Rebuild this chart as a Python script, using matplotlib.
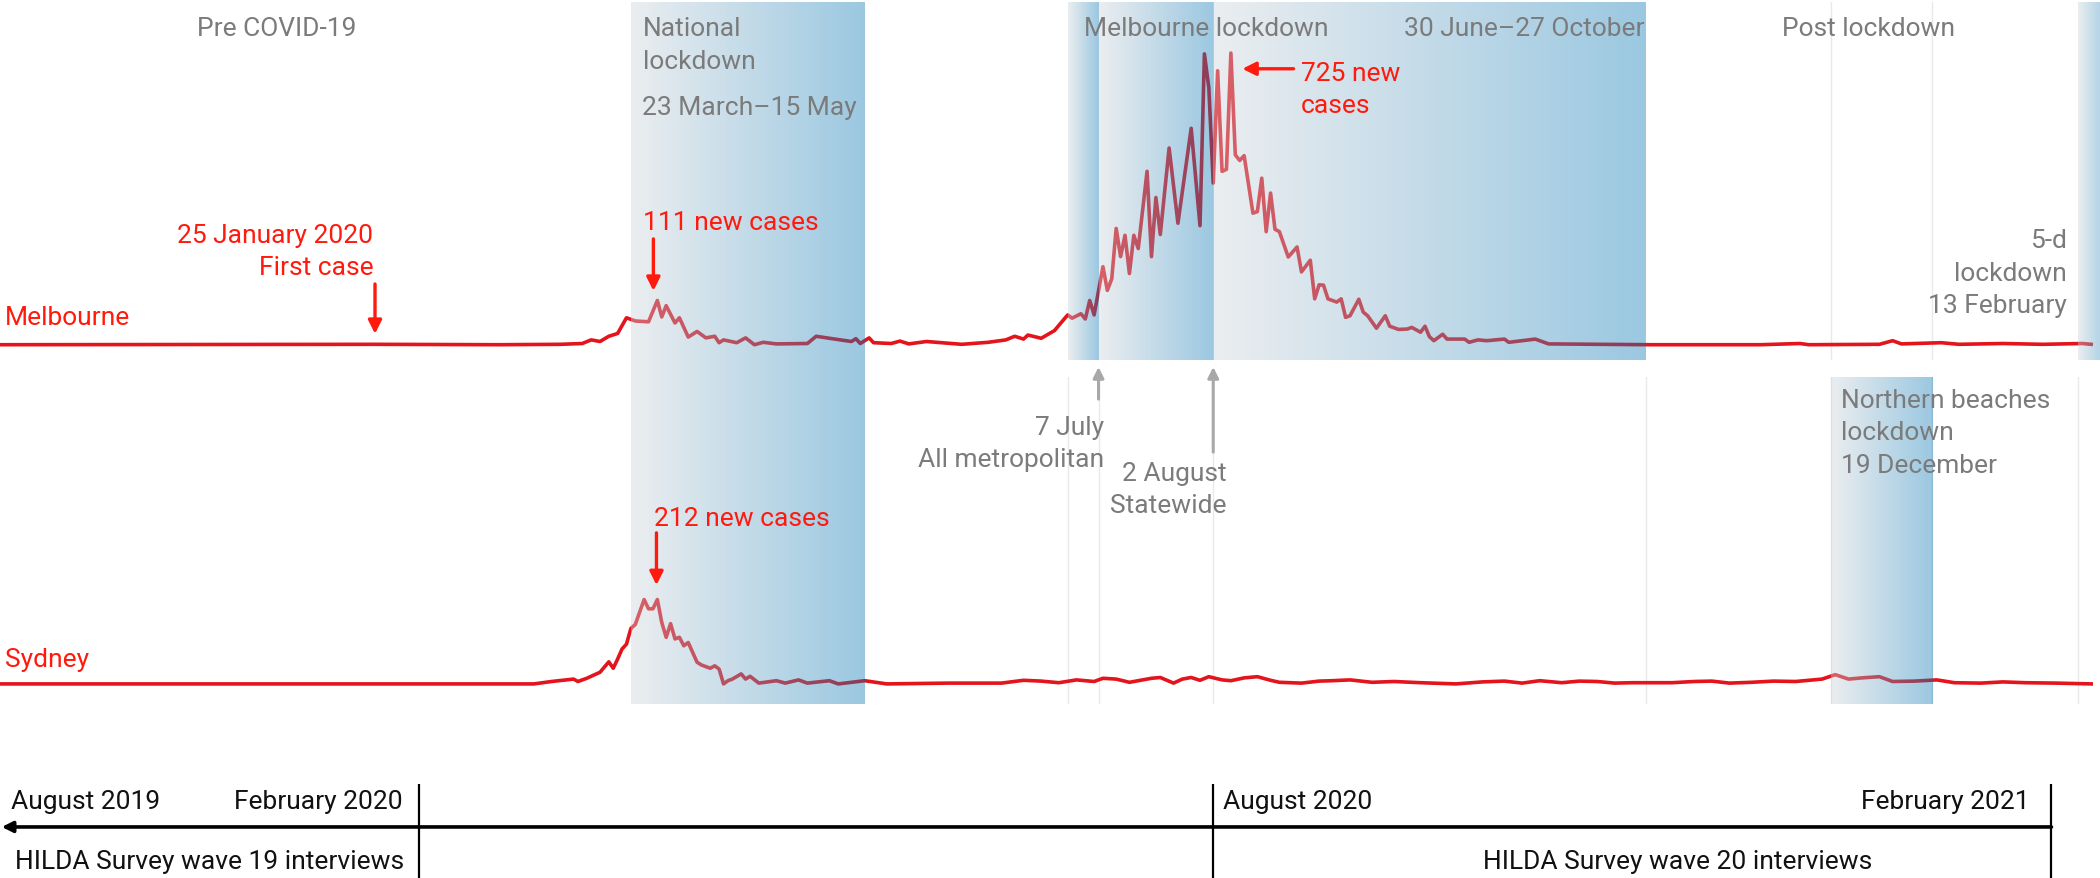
import numpy as np
import matplotlib
matplotlib.use("Agg")
import matplotlib.pyplot as plt
from matplotlib.colors import LinearSegmentedColormap

plt.rcParams['font.family'] = ['Roboto', 'DejaVu Sans']

START = np.datetime64("2019-11-01")


def d(s):
    # days since start of the chart
    return float((np.datetime64(s) - START) / np.timedelta64(1, "D"))


# daily new cases, Melbourne (days since 1 Nov 2019)
mel_day = [0, 85, 113, 127, 132, 134, 136, 138, 140, 142, 144, 147, 149, 150, 151,
           153, 154, 156, 158, 160, 162, 163, 164, 167, 169, 171, 173, 176, 183, 185,
           188, 193, 194, 195, 197, 198, 202, 204, 206, 210, 218, 224, 228, 230, 232,
           233, 236, 239, 240, 242, 243, 245, 246, 247, 248, 250, 251, 252, 253, 254,
           255, 256, 257, 258, 260, 261, 262, 263, 265, 267, 270, 272, 273, 274, 275,
           276, 277, 278, 279, 280, 281, 282, 284, 285, 286, 287, 288, 289, 290, 292,
           294, 295, 297, 298, 299, 300, 301, 303, 304, 305, 306, 308, 309, 310, 312,
           314, 315, 317, 319, 320, 322, 323, 324, 325, 327, 328, 332, 333, 335, 337,
           341, 342, 345, 348, 351, 374, 399, 408, 410, 426, 429, 431, 440, 444, 454,
           463, 472, 474]
mel_cases = [0, 1, 0, 1, 3, 12, 8, 21, 28, 67, 59, 57, 110, 69, 97,
             54, 67, 19, 33, 17, 21, 5, 12, 5, 17, 0, 6, 2, 3, 21,
             16, 8, 15, 3, 17, 5, 3, 9, 2, 8, 1, 6, 12, 21, 14,
             24, 16, 35, 48, 74, 66, 77, 64, 110, 74, 194, 135, 164, 289, 219,
             272, 177, 272, 239, 431, 219, 366, 274, 489, 302, 538, 296, 723, 639, 402,
             681, 431, 436, 725, 472, 458, 470, 327, 331, 414, 281, 377, 287, 281, 218,
             243, 181, 210, 114, 149, 148, 114, 106, 114, 68, 72, 113, 81, 72, 41,
             72, 46, 38, 39, 43, 31, 46, 20, 10, 26, 14, 14, 6, 12, 10,
             14, 6, 10, 14, 2, 0, 0, 3, 0, 1, 10, 2, 5, 1, 3,
             1, 3, 1]

# daily new cases, Sydney
syd_day = [0, 121, 125, 130, 131, 133, 136, 138, 139, 140, 141, 142, 143, 144, 146,
           147, 148, 149, 150, 151, 152, 153, 154, 155, 156, 158, 159, 161, 162, 163,
           164, 165, 166, 168, 169, 170, 172, 176, 178, 181, 183, 188, 190, 196, 201,
           215, 227, 232, 236, 240, 244, 248, 250, 253, 256, 259, 261, 263, 266, 268,
           270, 272, 274, 277, 279, 282, 285, 288, 290, 295, 299, 302, 306, 311, 316,
           322, 330, 336, 341, 345, 349, 354, 358, 362, 366, 370, 379, 384, 388, 392,
           397, 402, 407, 413, 416, 419, 422, 426, 429, 434, 439, 443, 449, 454, 459,
           466, 474]
syd_cases = [0, 0, 6, 12, 6, 14, 29, 55, 39, 62, 87, 99, 138, 148, 210,
             187, 187, 210, 153, 116, 150, 112, 116, 95, 103, 54, 47, 39, 45, 37,
             0, 8, 12, 25, 12, 19, 2, 8, 2, 10, 2, 8, 0, 8, 0,
             2, 2, 9, 7, 3, 10, 6, 14, 12, 4, 10, 14, 16, 2, 12,
             16, 9, 18, 10, 8, 15, 18, 9, 4, 2, 7, 8, 10, 4, 6,
             3, 0, 5, 7, 2, 8, 3, 7, 6, 2, 3, 3, 6, 7, 2,
             4, 7, 6, 12, 23, 12, 15, 18, 6, 7, 10, 3, 2, 5, 3,
             2, 0]

# lockdown periods
national = ("2020-03-23", "2020-05-15")
melb_parts = [("2020-06-30", "2020-07-07"), ("2020-07-07", "2020-08-02"),
              ("2020-08-02", "2020-11-08")]
five_day = ("2021-02-14", "2021-02-21")
northern = ("2020-12-20", "2021-01-12")

# survey interview periods
wave_marks = ["2020-02-04", "2020-08-02", "2021-02-08"]

RED = "#e3141c"
RED_TXT = "#ff1a0d"
GREY_TXT = "#7b7b7b"
GREY_ARROW = "#a8a8a8"
FS = 19

band_cmap = LinearSegmentedColormap.from_list("band", ["#cdd4d9", "#0575b4"])
grad = np.linspace(0, 1, 256).reshape(1, -1)

XMAX = 476
fig = plt.figure(figsize=(21, 8.79), dpi=100)
ax_m = fig.add_axes([0, 1 - 361 / 879, 1, 358 / 879])
ax_s = fig.add_axes([0, 1 - 705 / 879, 1, 327 / 879])
ax_t = fig.add_axes([0, 0, 1, 94 / 879])
m_lim = (-38, 852)
s_lim = (-50, 764)


def band(ax, a, b, y0, y1, clip=True):
    im = ax.imshow(grad, extent=[d(a), d(b), y0, y1], aspect="auto", cmap=band_cmap,
                   alpha=0.4, zorder=3, interpolation="bilinear")
    im.set_clip_on(clip)


# Melbourne panel
for day in [northern[0], northern[1]]:
    ax_m.axvline(d(day), color="#e9e9e9", lw=1, zorder=0)
ax_m.plot(mel_day, mel_cases, color=RED, lw=2.6, zorder=2, solid_joinstyle="round")
band(ax_m, national[0], national[1], -80, m_lim[1], clip=False)
for a, b in melb_parts:
    band(ax_m, a, b, m_lim[0], m_lim[1])
band(ax_m, five_day[0], five_day[1], m_lim[0], m_lim[1])
ax_m.set_xlim(0, XMAX)
ax_m.set_ylim(*m_lim)
ax_m.axis("off")

# Sydney panel
for day in ["2020-06-30", "2020-07-07", "2020-08-02", "2020-11-08",
            northern[0], northern[1], five_day[0]]:
    ax_s.axvline(d(day), color="#e9e9e9", lw=1, zorder=0)
ax_s.plot(syd_day, syd_cases, color=RED, lw=2.6, zorder=2, solid_joinstyle="round")
band(ax_s, national[0], national[1], s_lim[0], s_lim[1])
band(ax_s, northern[0], northern[1], s_lim[0], s_lim[1] + 5)
ax_s.set_xlim(0, XMAX)
ax_s.set_ylim(*s_lim)
ax_s.axis("off")

# gray labels
gkw = dict(color=GREY_TXT, fontsize=FS, va="center", zorder=6)
ax_m.text(62.8, 788, "Pre COVID-19", ha="center", **gkw)
ax_m.text(145.8, 747, "National\nlockdown", ha="left", linespacing=1.45, **gkw)
ax_m.text(145.6, 591, "23 March\u201315 May", ha="left", **gkw)
ax_m.text(245.8, 788, "Melbourne lockdown", ha="left", **gkw)
ax_m.text(372.8, 788, "30 June\u201327 October", ha="right", **gkw)
ax_m.text(423.6, 788, "Post lockdown", ha="center", **gkw)
ax_m.text(468.5, 179, "5-d\nlockdown\n13 February", ha="right", linespacing=1.45, **gkw)
ax_s.text(250.3, 600, "7 July\nAll metropolitan", ha="right", linespacing=1.45, **gkw)
ax_s.text(278.0, 485, "2 August\nStatewide", ha="right", linespacing=1.45, **gkw)
ax_s.text(417.2, 626, "Northern beaches\nlockdown\n19 December", ha="left",
          linespacing=1.45, **gkw)

gprops = dict(arrowstyle="-|>", color=GREY_ARROW, lw=2.2, mutation_scale=16,
              shrinkA=0, shrinkB=0)
ax_s.annotate("", xy=(d("2020-07-07"), 789), xytext=(d("2020-07-07"), 709),
              arrowprops=gprops, annotation_clip=False)
ax_s.annotate("", xy=(d("2020-08-02"), 789), xytext=(d("2020-08-02"), 577),
              arrowprops=gprops, annotation_clip=False)

# red labels
rkw = dict(color=RED_TXT, fontsize=FS, va="center", zorder=6)
rprops = dict(arrowstyle="-|>", color=RED_TXT, lw=2.4, mutation_scale=20,
              shrinkA=0, shrinkB=0)
ax_m.text(1.1, 69, "Melbourne", ha="left", **rkw)
ax_s.text(1.1, 62, "Sydney", ha="left", **rkw)
ax_m.text(84.6, 233, "25 January 2020\nFirst case", ha="right", linespacing=1.45, **rkw)
ax_m.annotate("", xy=(d("2020-01-25"), 27), xytext=(d("2020-01-25"), 151),
              arrowprops=rprops)
ax_m.text(145.8, 305, "111 new cases", ha="left", **rkw)
ax_m.annotate("", xy=(148.1, 134), xytext=(148.1, 263), arrowprops=rprops)
ax_m.text(294.8, 636, "725 new\ncases", ha="left", linespacing=1.45, **rkw)
ax_m.annotate("", xy=(281.6, 686), xytext=(293.2, 686), arrowprops=rprops)
ax_s.text(148.3, 413, "212 new cases", ha="left", **rkw)
ax_s.annotate("", xy=(148.8, 246), xytext=(148.8, 376), arrowprops=rprops)

# survey timeline
for day in wave_marks:
    ax_t.plot([d(day), d(day)], [0, 1], color="black", lw=1.6)
ax_t.annotate("", xy=(0.4, 0.543), xytext=(d(wave_marks[2]), 0.543),
              arrowprops=dict(arrowstyle="-|>", color="black", lw=2.6,
                              mutation_scale=16, shrinkA=0, shrinkB=0))
tkw = dict(color="#111111", fontsize=FS, va="center")
ax_t.text(2.5, 0.82, "August 2019", ha="left", **tkw)
ax_t.text(91.2, 0.82, "February 2020", ha="right", **tkw)
ax_t.text(277.3, 0.82, "August 2020", ha="left", **tkw)
ax_t.text(460.1, 0.82, "February 2021", ha="right", **tkw)
ax_t.text(91.6, 0.18, "HILDA Survey wave 19 interviews", ha="right", **tkw)
ax_t.text(380.3, 0.18, "HILDA Survey wave 20 interviews", ha="center", **tkw)
ax_t.set_xlim(0, XMAX)
ax_t.set_ylim(0, 1)
ax_t.axis("off")

fig.savefig("out.png", dpi=100)
